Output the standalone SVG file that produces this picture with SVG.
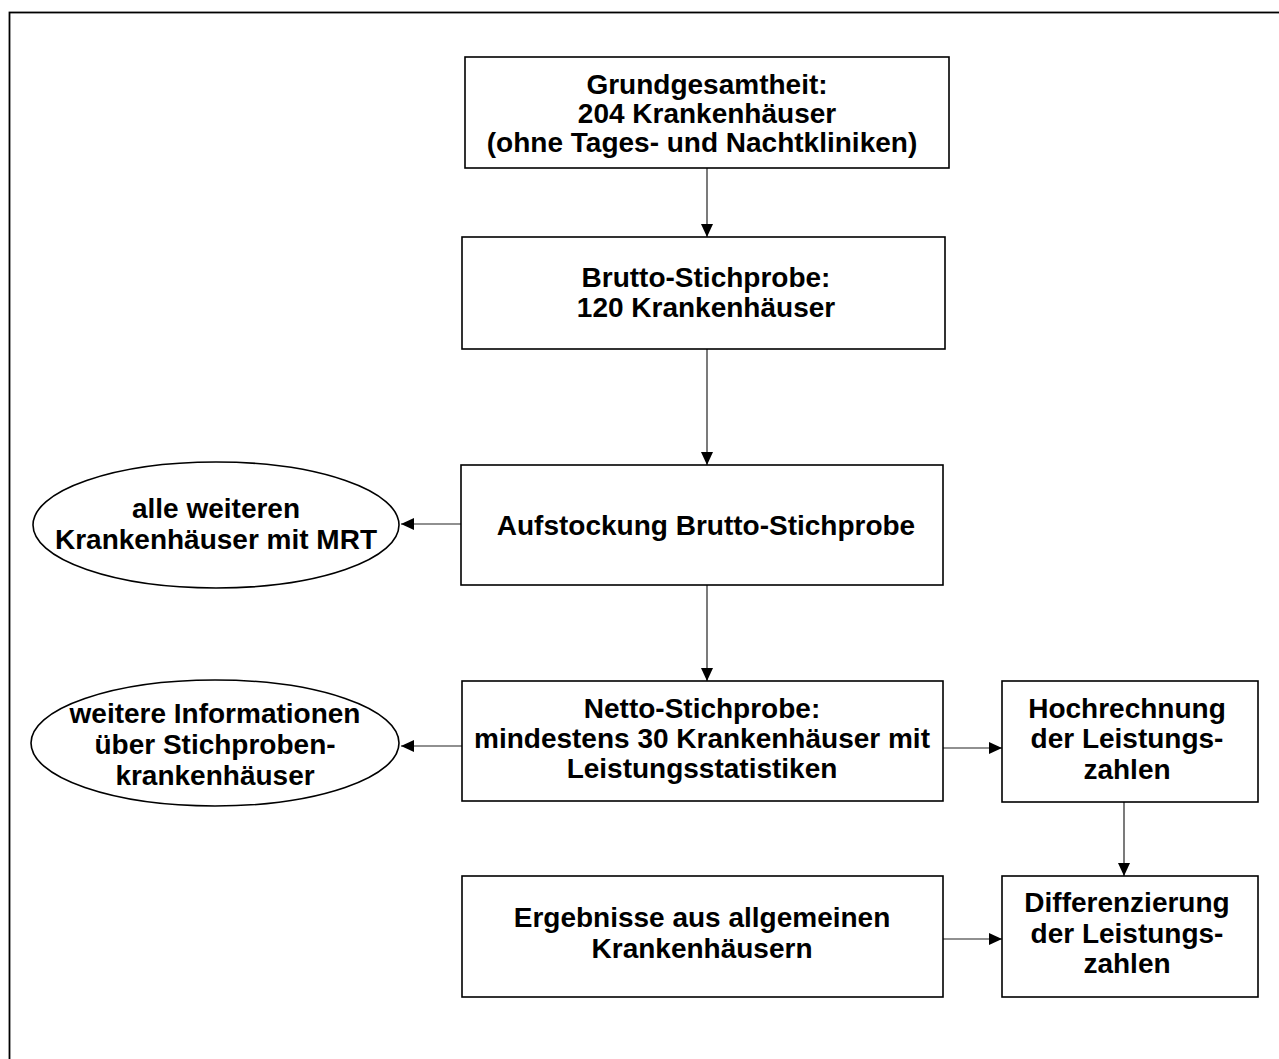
<svg xmlns="http://www.w3.org/2000/svg" width="1279" height="1059" viewBox="0 0 1279 1059">
<style>
.box{fill:#fff;stroke:#000;stroke-width:1.6}
.frame{fill:#fff;stroke:#000;stroke-width:1.8}
.t{font-family:"Liberation Sans",Arial,Helvetica,sans-serif;font-weight:bold;font-size:28px;fill:#000;text-anchor:middle}
.c{stroke:#222;stroke-width:1.2;fill:none;marker-end:url(#ah)}
</style>
<defs>
<marker id="ah" markerUnits="userSpaceOnUse" markerWidth="13" markerHeight="12" refX="13" refY="6" orient="auto">
<path d="M0,0 L13,6 L0,12 z" fill="#000"/>
</marker>
</defs>
<rect class="frame" x="9.5" y="12.5" width="1300" height="1100"/>
<g id="connectors">
<line class="c" x1="707" y1="168" x2="707" y2="237"/>
<line class="c" x1="707" y1="349" x2="707" y2="465"/>
<line class="c" x1="461" y1="524" x2="401" y2="524"/>
<line class="c" x1="707" y1="585" x2="707" y2="681"/>
<line class="c" x1="462" y1="746" x2="401" y2="746"/>
<line class="c" x1="943" y1="748" x2="1002" y2="748"/>
<line class="c" x1="1124" y1="802" x2="1124" y2="876"/>
<line class="c" x1="943" y1="939" x2="1002" y2="939"/>
</g>
<g id="grundgesamtheit">
<rect class="box" x="465" y="57" width="484" height="111"/>
<text class="t" x="707" y="94">Grundgesamtheit:</text>
<text class="t" x="707" y="123">204 Krankenhäuser</text>
<text class="t" x="702" y="152">(ohne Tages- und Nachtkliniken)</text>
</g>
<g id="brutto">
<rect class="box" x="462" y="237" width="483" height="112"/>
<text class="t" x="706" y="287">Brutto-Stichprobe:</text>
<text class="t" x="706" y="317">120 Krankenhäuser</text>
</g>
<g id="aufstockung">
<rect class="box" x="461" y="465" width="482" height="120"/>
<text class="t" x="706" y="535">Aufstockung Brutto-Stichprobe</text>
</g>
<g id="ellipse-mrt">
<ellipse class="box" cx="216" cy="525" rx="183" ry="63"/>
<text class="t" x="216" y="518">alle weiteren</text>
<text class="t" x="216" y="549">Krankenhäuser mit MRT</text>
</g>
<g id="netto">
<rect class="box" x="462" y="681" width="481" height="120"/>
<text class="t" x="702" y="718">Netto-Stichprobe:</text>
<text class="t" x="702" y="748">mindestens 30 Krankenhäuser mit</text>
<text class="t" x="702" y="778">Leistungsstatistiken</text>
</g>
<g id="ellipse-info">
<ellipse class="box" cx="215" cy="743" rx="184" ry="63"/>
<text class="t" x="215" y="723">weitere Informationen</text>
<text class="t" x="215" y="754">über Stichproben-</text>
<text class="t" x="215" y="785">krankenhäuser</text>
</g>
<g id="hochrechnung">
<rect class="box" x="1002" y="681" width="256" height="121"/>
<text class="t" x="1127" y="718">Hochrechnung</text>
<text class="t" x="1127" y="748">der Leistungs-</text>
<text class="t" x="1127" y="779">zahlen</text>
</g>
<g id="ergebnisse">
<rect class="box" x="462" y="876" width="481" height="121"/>
<text class="t" x="702" y="927">Ergebnisse aus allgemeinen</text>
<text class="t" x="702" y="958">Krankenhäusern</text>
</g>
<g id="differenzierung">
<rect class="box" x="1002" y="876" width="256" height="121"/>
<text class="t" x="1127" y="912">Differenzierung</text>
<text class="t" x="1127" y="943">der Leistungs-</text>
<text class="t" x="1127" y="973">zahlen</text>
</g>
</svg>
